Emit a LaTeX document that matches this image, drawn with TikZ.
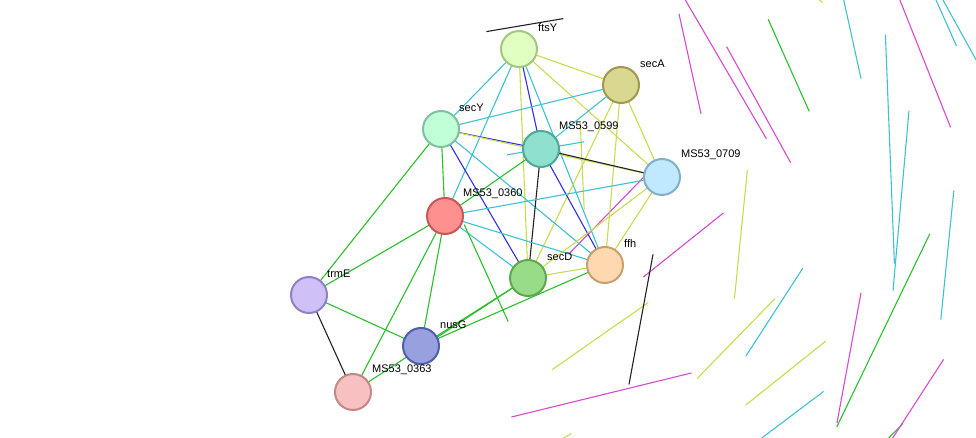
\documentclass[tikz,border=0pt]{standalone}
\usepackage{fontspec}
\setmainfont{Liberation Sans}
\usetikzlibrary{calc}
\definecolor{tm}{HTML}{C8DC50}\definecolor{db}{HTML}{3EC1D3}\definecolor{ex}{HTML}{D64AD0}
\definecolor{co}{HTML}{222222}\definecolor{nb}{HTML}{2CBF2C}\definecolor{cc}{HTML}{3030E0}\definecolor{fu}{HTML}{E03030}
\definecolor{fA}{HTML}{E0FFC0}\definecolor{dA}{HTML}{A0C880}
\definecolor{fB}{HTML}{D8D890}\definecolor{dB}{HTML}{A09850}
\definecolor{fC}{HTML}{C0FFD8}\definecolor{dC}{HTML}{80C0A0}
\definecolor{fD}{HTML}{90E0D0}\definecolor{dD}{HTML}{50A898}
\definecolor{fE}{HTML}{C0E8FF}\definecolor{dE}{HTML}{80B0C8}
\definecolor{fF}{HTML}{FF9090}\definecolor{dF}{HTML}{C85858}
\definecolor{fG}{HTML}{FFD8B0}\definecolor{dG}{HTML}{C8A070}
\definecolor{fH}{HTML}{98DC88}\definecolor{dH}{HTML}{60A850}
\definecolor{fI}{HTML}{D0C0F8}\definecolor{dI}{HTML}{9080C8}
\definecolor{fJ}{HTML}{98A0E0}\definecolor{dJ}{HTML}{5060A8}
\definecolor{fK}{HTML}{F8C0C0}\definecolor{dK}{HTML}{C08888}
\newcommand\myedge[3]{\foreach \c [count=\i] in {#3}{\draw[\c,line width=1.1pt] ($(#1)!{(\i-1)*1.6}!90:(#2)$) -- ($(#2)!{(\i-1)*1.6}!-90:(#1)$);}}
\tikzset{prot/.style={circle,minimum size=36pt,inner sep=0,line width=2pt,fill=f#1,draw=d#1},
lab/.style={font=\fontsize{11pt}{12pt}\selectfont,inner sep=1pt}}
\begin{document}
\begin{tikzpicture}[x=1pt,y=-1pt]
\useasboundingbox (0,0) rectangle (976,438);
\coordinate (ftsY) at (519,49); \coordinate (secA) at (621,85); \coordinate (secY) at (441,129);
\coordinate (p599) at (541,149); \coordinate (p709) at (662,177); \coordinate (p360) at (445,216);
\coordinate (ffh) at (605,265); \coordinate (secD) at (528,278); \coordinate (trmE) at (309,295);
\coordinate (nusG) at (421,346); \coordinate (p363) at (353,392);
\myedge{ftsY}{secA}{tm,db,ex,nb}
\myedge{ftsY}{secY}{db,ex,tm,nb}
\myedge{ftsY}{p599}{cc,ex,db,tm,co}
\myedge{ftsY}{p709}{tm,db,ex,nb}
\myedge{ftsY}{ffh}{db,ex,cc,tm,co,nb}
\myedge{ftsY}{secD}{tm,db,nb}
\myedge{ftsY}{p360}{db}
\myedge{secA}{secY}{db,ex,tm,nb}
\myedge{secA}{p599}{db,ex,tm,co}
\myedge{secA}{p709}{tm,nb,db}
\myedge{secA}{ffh}{tm,db,nb}
\myedge{secA}{secD}{tm,nb,co,db}
\myedge{secY}{p599}{cc,ex,db,tm,co}
\myedge{secY}{p709}{tm,ex,db}
\myedge{secY}{p360}{nb,tm}
\myedge{secY}{secD}{cc,ex,db,tm}
\myedge{secY}{ffh}{db,tm,ex}
\myedge{secY}{trmE}{nb}
\myedge{p599}{p709}{co,ex,tm,db,fu}
\myedge{p599}{ffh}{cc,ex,db,tm,co}
\myedge{p599}{secD}{co,tm,db,nb}
\myedge{p599}{p360}{nb,tm,co}
\myedge{p709}{p360}{db}
\myedge{p709}{secD}{tm,db,ex}
\myedge{p709}{ffh}{tm,db,ex}
\myedge{p360}{secD}{db}
\myedge{p360}{ffh}{db}
\myedge{p360}{trmE}{nb,tm,co}
\myedge{p360}{nusG}{nb,co,ex,tm}
\myedge{p360}{p363}{nb}
\myedge{secD}{ffh}{tm,db,co,nb}
\myedge{secD}{nusG}{nb,tm,co,db}
\myedge{ffh}{nusG}{nb,tm}
\myedge{secD}{p363}{nb,tm}
\myedge{trmE}{nusG}{nb}
\myedge{trmE}{p363}{co,nb}
\node[prot=A] (n1) at (ftsY) {}; \node[lab,anchor=south west] (l1) at (537,33) {ftsY};
\node[prot=B] (n2) at (secA) {}; \node[lab,anchor=south west] (l2) at (639,69) {secA};
\node[prot=C] (n3) at (secY) {}; \node[lab,anchor=south west] (l3) at (458,113) {secY};
\node[prot=D] (n4) at (p599) {}; \node[lab,anchor=south west] (l4) at (558,133) {MS53\_0599};
\node[prot=E] (n5) at (p709) {}; \node[lab,anchor=south west] (l5) at (680,161) {MS53\_0709};
\node[prot=F] (n6) at (p360) {}; \node[lab,anchor=south west] (l6) at (462,200) {MS53\_0360};
\node[prot=G] (n7) at (ffh) {}; \node[lab,anchor=south west] (l7) at (623,249) {ffh};
\node[prot=H] (n8) at (secD) {}; \node[lab,anchor=south west] (l8) at (546,262) {secD};
\node[prot=I] (n9) at (trmE) {}; \node[lab,anchor=south west] (l9) at (326,279) {trmE};
\node[prot=J] (n10) at (nusG) {}; \node[lab,anchor=south west] (l10) at (439,330) {nusG};
\node[prot=K] (n11) at (p363) {}; \node[lab,anchor=south west] (l11) at (371,376) {MS53\_0363};
\end{tikzpicture}
\end{document}
